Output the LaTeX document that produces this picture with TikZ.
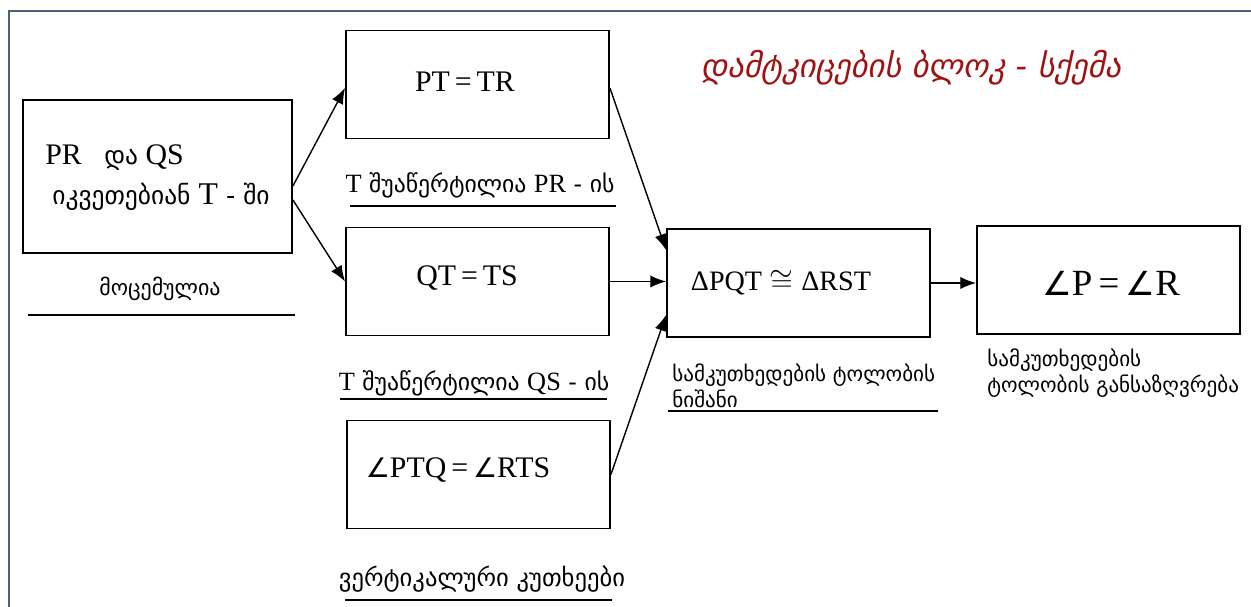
\documentclass[tikz,border=0pt]{standalone}
\usepackage{fontspec}
\setmainfont{Liberation Serif}
\newfontfamily\geo{DejaVu Sans}
\newfontfamily\sym{DejaVu Sans}
\usetikzlibrary{calc,arrows.meta}

\definecolor{titlered}{RGB}{160,18,18}
\definecolor{framegray}{RGB}{80,95,122}
\newcommand{\ang}{{\sym\fontsize{0.9em}{1em}\selectfont ∠}}

\tikzset{
	box/.style={draw, line width=1.1pt, minimum width=5.26cm, minimum height=2.16cm, inner sep=0pt},
	arr/.style={line width=0.8pt, -{Latex[length=9pt,width=7pt]}},
	eq/.style={inner sep=0pt, font=\fontsize{17}{19}\selectfont},
	lbl/.style={inner sep=0pt, font=\geo\fontsize{12}{15.3}\selectfont},
	uline/.style={line width=1.1pt},
}

\begin{document}
\begin{tikzpicture}[x=0.02cm, y=-0.02cm]
			%%%%% START %%%%%
			\useasboundingbox (0, 0) rectangle (1251, 607);
			
			% frame
			\draw[line width=1.5pt, color=framegray] (9, 607) -- (9, 11) -- (1251, 11);
			
			% title
			\node[inner sep=0pt, color=titlered, font=\geo\itshape\fontsize{18.5}{21}\selectfont] (title) at (911, 68) {დამტკიცების ბლოკ - სქემა};
			
			% given
			\node[box, minimum width=5.38cm, minimum height=3.06cm] (given) at (157.5, 176.5) {};
			\node[eq, anchor=west] (given1) at (45, 158) {PR\ \ \ {\geo\fontsize{14.5}{16}\selectfont და}\ QS};
			\node[lbl, anchor=west, font=\geo\fontsize{14.5}{16}\selectfont] (given2) at (52, 197) {იკვეთებიან\ {\rmfamily\fontsize{18}{20}\selectfont T} - ში};
			\node[lbl, font=\geo\fontsize{12.5}{15}\selectfont] (givenlbl) at (160, 289) {მოცემულია};
			\draw[uline] (28, 315) -- (295, 315);
			
			% three facts
			\node[box] (pt) at (477.5, 84.5) {};
			\node[eq] (pttext) at (465, 82) {PT\,=\,TR};
			\node[lbl, font=\geo\fontsize{13.5}{16}\selectfont] (ptlbl) at (480, 185) {{\rmfamily\fontsize{15}{17}\selectfont T} შუაწერტილია {\rmfamily\fontsize{15}{17}\selectfont PR} - ის};
			\draw[uline] (350, 206) -- (616, 206);
			
			\node[box] (qt) at (477.5, 281.5) {};
			\node[eq] (qttext) at (467, 278) {QT\,=\,TS};
			\node[lbl, font=\geo\fontsize{13.5}{16}\selectfont] (qtlbl) at (474, 383) {{\rmfamily\fontsize{15}{17}\selectfont T} შუაწერტილია {\rmfamily\fontsize{15}{17}\selectfont QS} - ის};
			\draw[uline] (340, 399) -- (607, 399);
			
			\node[box] (ang) at (478.5, 474.5) {};
			\node[eq] (angtext) at (458, 470) {\ang PTQ\,=\,\ang RTS};
			\node[lbl, font=\geo\fontsize{14}{16}\selectfont] (anglbl) at (482, 579) {ვერტიკალური კუთხეები};
			\draw[uline] (345, 600) -- (612, 600);
			
			% congruence
			\node[box] (cong) at (798.5, 283) {};
			\node[eq, font=\fontsize{16}{18}\selectfont] (congtext) at (781, 283) {ΔPQT\;$\cong$\;ΔRST};
			\node[lbl, anchor=north west, align=left] (conglbl) at (672, 363) {სამკუთხედების ტოლობის\\ნიშანი};
			\draw[uline] (668, 411) -- (938, 411);
			
			% result
			\node[box] (res) at (1108.5, 280) {};
			\node[eq, font=\fontsize{21}{23}\selectfont] (restext) at (1111, 283) {\ang P\,=\,\ang R};
			\node[lbl, anchor=north west, align=left] (reslbl) at (987, 348) {სამკუთხედების\\ტოლობის განსაზღვრება};
			
			% arrows
			\draw[arr] ([yshift=-0.19cm]given.east) -- ([yshift=-0.07cm]pt.west);
			\draw[arr] ([yshift=-0.47cm]given.east) -- (qt.west);
			\draw[arr] ([yshift=-0.07cm]pt.east) -- ([yshift=0.66cm]cong.west);
			\draw[arr] (qt.east) -- (qt.east -| cong.west);
			\draw[arr] (ang.east) -- ([yshift=-0.64cm]cong.west);
			\draw[arr] (cong.east) -- (cong.east -| res.west);
			%%%%% END %%%%%
\end{tikzpicture}
\end{document}
